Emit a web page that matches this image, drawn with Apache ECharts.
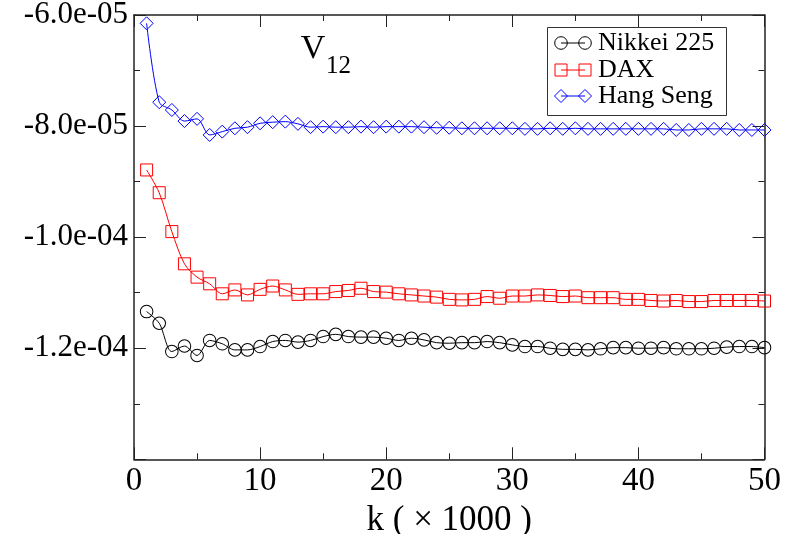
<!DOCTYPE html>
<html>
<head>
<meta charset="utf-8">
<title>V12</title>
<script src="https://cdn.jsdelivr.net/npm/echarts/dist/echarts.min.js"></script>
<style>
  html, body { margin: 0; padding: 0; background: #fff; }
  #chart { width: 786px; height: 534px; }
</style>
</head>
<body>
<div id="chart"></div>
<script>
  // k ( x 1000 )
  const kValues = [
    1, 2, 3, 4, 5, 6, 7, 8, 9, 10,
    11, 12, 13, 14, 15, 16, 17, 18, 19, 20,
    21, 22, 23, 24, 25, 26, 27, 28, 29, 30,
    31, 32, 33, 34, 35, 36, 37, 38, 39, 40,
    41, 42, 43, 44, 45, 46, 47, 48, 49, 50
  ]

  const nikkei = [
    -1.134e-4, -1.155e-4, -1.206e-4, -1.196e-4, -1.213e-4, -1.186e-4, -1.192e-4, -1.203e-4, -1.203e-4, -1.197e-4,
    -1.188e-4, -1.186e-4, -1.189e-4, -1.186e-4, -1.179e-4, -1.175e-4, -1.179e-4, -1.180e-4, -1.180e-4, -1.182e-4,
    -1.186e-4, -1.182e-4, -1.185e-4, -1.190e-4, -1.191e-4, -1.190e-4, -1.190e-4, -1.188e-4, -1.190e-4, -1.194e-4,
    -1.197e-4, -1.197e-4, -1.200e-4, -1.202e-4, -1.202e-4, -1.203e-4, -1.201e-4, -1.199e-4, -1.199e-4, -1.200e-4,
    -1.200e-4, -1.199e-4, -1.201e-4, -1.201e-4, -1.201e-4, -1.200e-4, -1.198e-4, -1.197e-4, -1.197e-4, -1.199e-4
  ]

  const dax = [
    -8.79e-5, -9.20e-5, -9.90e-5, -1.048e-4, -1.072e-4, -1.084e-4, -1.102e-4, -1.095e-4, -1.104e-4, -1.094e-4,
    -1.088e-4, -1.095e-4, -1.103e-4, -1.102e-4, -1.102e-4, -1.098e-4, -1.096e-4, -1.092e-4, -1.098e-4, -1.099e-4,
    -1.102e-4, -1.104e-4, -1.106e-4, -1.108e-4, -1.112e-4, -1.113e-4, -1.112e-4, -1.107e-4, -1.110e-4, -1.106e-4,
    -1.106e-4, -1.104e-4, -1.105e-4, -1.107e-4, -1.106e-4, -1.109e-4, -1.109e-4, -1.109e-4, -1.112e-4, -1.112e-4,
    -1.114e-4, -1.115e-4, -1.114e-4, -1.116e-4, -1.116e-4, -1.114e-4, -1.114e-4, -1.114e-4, -1.114e-4, -1.115e-4
  ]

  const hangSeng = [
    -6.15e-5, -7.57e-5, -7.71e-5, -7.91e-5, -7.87e-5, -8.16e-5, -8.10e-5, -8.04e-5, -8.02e-5, -7.95e-5,
    -7.93e-5, -7.92e-5, -7.96e-5, -8.02e-5, -8.01e-5, -8.02e-5, -8.02e-5, -8.01e-5, -8.02e-5, -8.01e-5,
    -8.01e-5, -8.01e-5, -8.02e-5, -8.03e-5, -8.03e-5, -8.04e-5, -8.04e-5, -8.04e-5, -8.04e-5, -8.04e-5,
    -8.05e-5, -8.05e-5, -8.04e-5, -8.05e-5, -8.04e-5, -8.05e-5, -8.05e-5, -8.05e-5, -8.05e-5, -8.05e-5,
    -8.05e-5, -8.05e-5, -8.07e-5, -8.07e-5, -8.05e-5, -8.05e-5, -8.05e-5, -8.07e-5, -8.07e-5, -8.07e-5
  ]

  const seriesNames = ['Nikkei 225', 'DAX', 'Hang Seng']
  const seriesColors = ['#000000', '#ff0000', '#0000ff']
  const seriesSymbols = ['circle', 'rect', 'diamond']

  const FONT = 'Liberation Serif'
  const AXIS_COLOR = '#222'

  const chart = echarts.init(document.getElementById('chart'))

  // -6.0e-05 style labels
  function sciLabel(v) {
    if (v < -1.35e-4) return ''
    return v.toExponential(1).replace(/e([+-])(\d+)$/, function (m, sign, exp) {
      return 'e' + sign + (exp.length < 2 ? '0' + exp : exp)
    })
  }

  function makeSeries(name, values, color, symbol, size) {
    return {
      name: name,
      type: 'line',
      data: kValues.map((k, i) => [k, values[i]]),
      smooth: 0.3,
      symbol: symbol,
      symbolSize: size,
      lineStyle: { color: color, width: 1 },
      itemStyle: { color: 'rgba(0,0,0,0)', borderColor: color, borderWidth: 1 },
      emphasis: { disabled: true },
      z: 3
    }
  }

  const commonTick = {
    axisLine: { show: true, onZero: false, lineStyle: { color: AXIS_COLOR, width: 1.5 } },
    axisTick: { show: true, inside: true, length: 12, lineStyle: { color: AXIS_COLOR, width: 1 } },
    minorTick: { show: true, splitNumber: 2, length: 6, lineStyle: { color: AXIS_COLOR, width: 1 } },
    splitLine: { show: false }
  }

  // legend rows (drawn by hand to get the o—o style)
  const legendRows = [43, 70, 96]
  const legendGraphics = [
    {
      type: 'rect',
      shape: { x: 547.5, y: 27.5, width: 179, height: 88 },
      style: { fill: '#fff', stroke: '#333', lineWidth: 1 },
      z: 10
    }
  ]
  seriesNames.forEach((name, i) => {
    const y = legendRows[i]
    const c = seriesColors[i]
    legendGraphics.push({
      type: 'line',
      shape: { x1: 561, y1: y, x2: 585, y2: y },
      style: { stroke: c, lineWidth: 1 },
      z: 11
    })
    ;[561, 585].forEach((cx) => {
      let el
      if (i === 0) {
        el = { type: 'circle', shape: { cx: cx, cy: y, r: 6.3 } }
      } else if (i === 1) {
        el = { type: 'rect', shape: { x: cx - 6, y: y - 6, width: 12, height: 12 } }
      } else {
        el = {
          type: 'polygon',
          shape: { points: [[cx, y - 6.5], [cx + 6.5, y], [cx, y + 6.5], [cx - 6.5, y]] }
        }
      }
      el.style = { fill: 'none', stroke: c, lineWidth: 1 }
      el.z = 11
      legendGraphics.push(el)
    })
    legendGraphics.push({
      type: 'text',
      x: 598,
      y: y,
      style: {
        text: name,
        fill: '#000',
        fontFamily: FONT,
        fontSize: 26,
        verticalAlign: 'middle'
      },
      z: 11
    })
  })

  const options = {
    backgroundColor: '#fff',
    animation: false,
    grid: {
      left: 134,
      right: 21.5,
      top: 15,
      bottom: 74.7,
      containLabel: false,
      outerBoundsMode: 'none'
    },
    xAxis: [
      {
        type: 'value',
        min: 0,
        max: 50,
        interval: 10,
        position: 'bottom',
        name: 'k ( \u00d7 1000 )',
        nameLocation: 'middle',
        nameGap: 38,
        nameTextStyle: { fontFamily: FONT, fontSize: 35, color: '#000' },
        axisLabel: { fontFamily: FONT, fontSize: 33, color: '#000', margin: 6 },
        ...commonTick
      },
      {
        type: 'value',
        min: 0,
        max: 50,
        interval: 10,
        position: 'top',
        axisLabel: { show: false },
        ...commonTick
      }
    ],
    yAxis: [
      {
        type: 'value',
        min: -1.4e-4,
        max: -6e-5,
        interval: 2e-5,
        position: 'left',
        axisLabel: {
          fontFamily: FONT,
          fontSize: 31,
          color: '#000',
          margin: 6,
          formatter: sciLabel
        },
        ...commonTick
      },
      {
        type: 'value',
        min: -1.4e-4,
        max: -6e-5,
        interval: 2e-5,
        position: 'right',
        axisLabel: { show: false },
        ...commonTick
      }
    ],
    graphic: [
      {
        type: 'text',
        x: 313,
        y: 49,
        style: {
          text: 'V',
          fill: '#000',
          fontFamily: FONT,
          fontSize: 34,
          align: 'center',
          verticalAlign: 'middle'
        }
      },
      {
        type: 'text',
        x: 338.5,
        y: 66,
        style: {
          text: '12',
          fill: '#000',
          fontFamily: FONT,
          fontSize: 25,
          align: 'center',
          verticalAlign: 'middle'
        }
      },
      ...legendGraphics
    ],
    series: [
      makeSeries(seriesNames[0], nikkei, seriesColors[0], seriesSymbols[0], 12.6),
      makeSeries(seriesNames[1], dax, seriesColors[1], seriesSymbols[1], 12),
      makeSeries(seriesNames[2], hangSeng, seriesColors[2], seriesSymbols[2], 13)
    ]
  }

  chart.setOption(options)
</script>
</body>
</html>
